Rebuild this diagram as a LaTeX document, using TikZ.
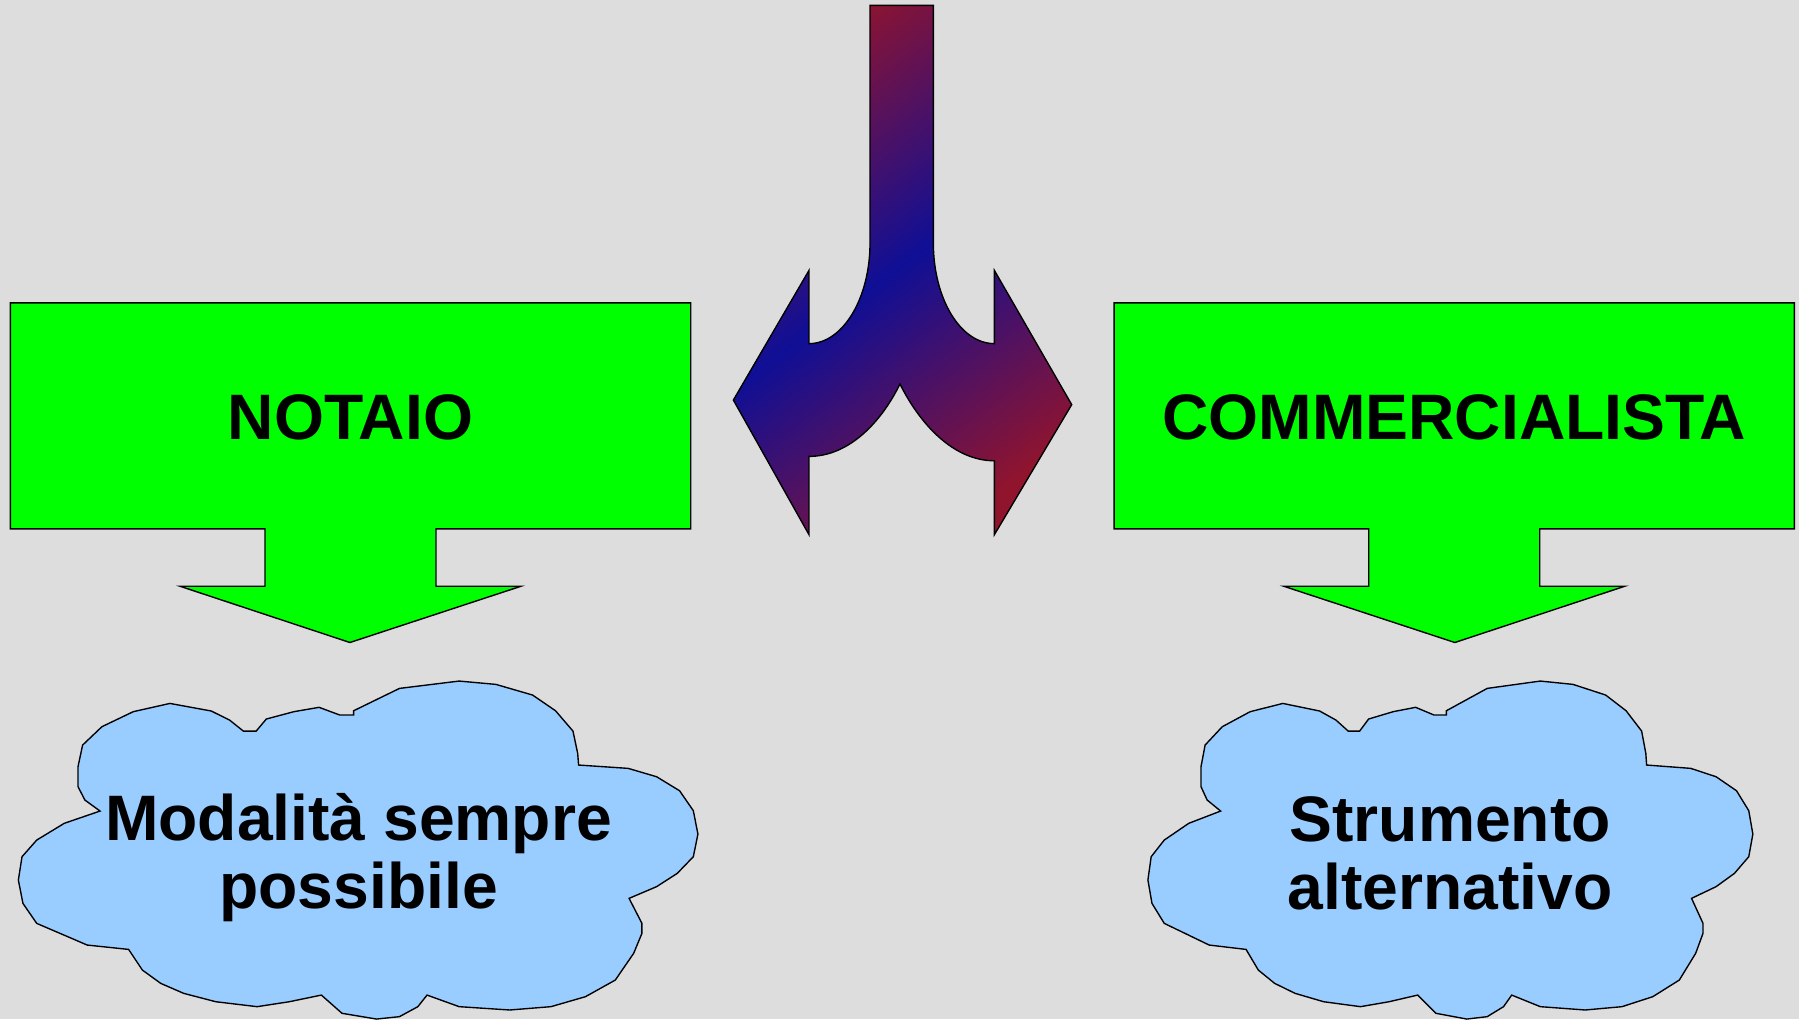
\documentclass[tikz,border=0pt]{standalone}
\usepackage{fontspec}
\setmainfont{Liberation Sans}
\definecolor{bgGray}{HTML}{DDDDDD}
\definecolor{boxGreen}{HTML}{00FF00}
\definecolor{cloudBlue}{HTML}{99CCFF}
\definecolor{arrRed}{RGB}{145,20,45}
\definecolor{arrBlue}{RGB}{15,15,150}
\pgfdeclareverticalshading{splitshade}{1000bp}{color(0bp)=(arrRed); color(200bp)=(arrRed); color(305bp)=(arrBlue); color(410bp)=(arrRed); color(610bp)=(arrRed)}
\begin{document}
\begin{tikzpicture}[x=0.5pt,y=-0.5pt,
  greenbox/.style={fill=boxGreen,draw=black,line width=0.6pt,line join=miter},
  cloudshape/.style={fill=cloudBlue,draw=black,line width=0.6pt},
  bigtext/.style={font=\bfseries\fontsize{28}{29.6}\selectfont,inner sep=0pt,align=center}]
\useasboundingbox (0,0) rectangle (1568,888.2);
\fill[bgGray] (0,0) rectangle (1568,888.2);

% left green box with arrow
\draw[greenbox] (9,264) -- (602,264) -- (602,461) -- (380,461) -- (380,511) -- (454,511)
  -- (305,560) -- (157,511) -- (231,511) -- (231,461) -- (9,461) -- cycle;
\node[bigtext,anchor=base] (notaio) at (305.5,383) {NOTAIO};

% right green box with arrow
\draw[greenbox] (971,264) -- (1564,264) -- (1564,461) -- (1342,461) -- (1342,511) -- (1416,511)
  -- (1268,560) -- (1119,511) -- (1193,511) -- (1193,461) -- (971,461) -- cycle;
\node[bigtext,anchor=base] (comm) at (1267.5,383) {COMMERCIALISTA};

% central split arrow
\def\arrowpath{(758.3,4.7) -- (758.3,211.7)
  .. controls (758.3,260.2) and (734.5,299.5) .. (705.1,299.5)
  -- (705.1,235.7) -- (639.2,348.7) -- (705.1,466.0) -- (705.1,397.8)
  .. controls (740,397.8) and (768,368) .. (784.4,334.7)
  .. controls (801,368) and (830,401.6) .. (866.7,401.6)
  -- (866.7,466.0) -- (934.1,352.7) -- (866.7,235.7) -- (866.7,299.5)
  .. controls (837,299.5) and (813.5,260.2) .. (813.5,211.7)
  -- (813.5,4.7) -- cycle}
\begin{scope}
  \clip \arrowpath;
  \pgftransformshift{\pgfpointxy{770}{243}}
  \pgftransformrotate{36}
  \pgflowlevelsynccm
  \pgfuseshading{splitshade}
\end{scope}
\draw[line width=0.6pt] \arrowpath;

% clouds
\def\cloudpath{(72.0,649.4) -- (88.8,633.4) -- (116.1,620.3) -- (148.1,613.1) -- (184.1,619.7)
  -- (200.1,627.6) -- (212.1,637.2) -- (223.3,637.2) -- (232.1,626.7) -- (256.1,620.3)
  -- (278.1,616.5) -- (296.1,623.2) -- (308.2,623.2) -- (308.2,619.5) -- (348.2,600.0)
  -- (400.2,593.6) -- (432.2,596.5) -- (464.2,605.8) -- (484.2,619.5) -- (499.4,637.2)
  -- (503.5,656.6) -- (504.3,666.8) -- (547.5,669.7) -- (572.3,677.0) -- (592.3,689.2)
  -- (604.3,706.6) -- (608.3,727.0) -- (604.3,746.7) -- (590.3,761.2) -- (572.3,772.8)
  -- (548.3,783.0) -- (559.5,804.8) -- (559.5,813.5) -- (552.3,830.9) -- (536.3,854.2)
  -- (510.3,868.7) -- (480.2,877.4) -- (444.2,880.3) -- (400.2,877.4) -- (372.2,867.3)
  -- (364.2,877.4) -- (348.2,886.1) -- (328.2,888.2) -- (298.1,883.2) -- (280.1,867.3)
  -- (252.1,873.1) -- (224.1,877.4) -- (188.1,873.1) -- (160.1,865.8) -- (140.1,857.1)
  -- (124.1,845.5) -- (112.1,827.5) -- (76.0,823.7) -- (32.0,804.8) -- (20.0,787.4)
  -- (16.0,767.0) -- (19.2,746.7) -- (32.0,732.2) -- (56.0,717.6) -- (87.2,706.9)
  -- (74.0,697.3) -- (68.0,685.7) -- (68.0,668.2) -- cycle}
\draw[cloudshape] \cloudpath;
\begin{scope}[shift={(986.26,0)},xscale=0.8902]
  \draw[cloudshape] \cloudpath;
\end{scope}
\node[bigtext,anchor=base] (modal) at (312.5,792) {Modalità sempre\\possibile};
\node[bigtext,anchor=base] (strum) at (1264,793) {Strumento\\alternativo};
\end{tikzpicture}
\end{document}
